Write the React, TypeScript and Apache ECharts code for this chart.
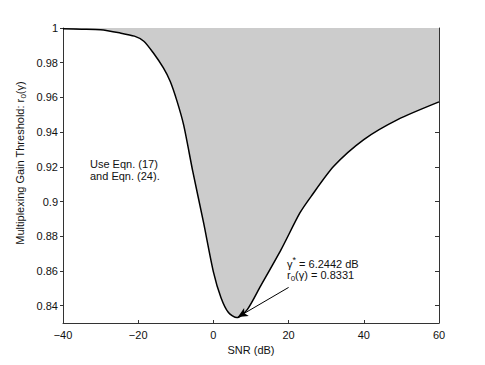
import React, { useEffect, useRef } from 'react';
import * as echarts from 'echarts';

const snrDb = [-40, -35, -30, -25, -21, -18.5, -16, -13.3, -11.5, -9.7, -7.9, -5.5, -2.6, 0, 2, 4, 6.24, 9, 12.5, 18, 23, 26, 32, 40, 49, 60];
const gainThreshold = [0.9995, 0.9993, 0.999, 0.9972, 0.9953, 0.9924, 0.9857, 0.977, 0.9693, 0.958, 0.944, 0.9175, 0.8877, 0.8595, 0.8447, 0.836, 0.8331, 0.8377, 0.8511, 0.8723, 0.8934, 0.903, 0.9203, 0.9357, 0.9472, 0.9574];
const yTickValues = [0.84, 0.86, 0.88, 0.9, 0.92, 0.94, 0.96, 0.98, 1];
const arrowFrom = [20, 0.8505];
const arrowTo = [6.5, 0.8334];

const FONT = '"Liberation Sans", Arial, sans-serif';
const AXIS_COLOR = '#333333';
const TEXT_COLOR = '#111111';

type Seg = { text: string; size: number; dy: number };

function measure(text: string, size: number): number {
  const ctx = document.createElement('canvas').getContext('2d');
  if (!ctx) return text.length * size * 0.5;
  ctx.font = `${size}px ${FONT}`;
  return ctx.measureText(text).width;
}

function segmentTexts(segs: Seg[], startX: number, y: number) {
  let x = startX;
  const out: any[] = [];
  segs.forEach((s) => {
    out.push({
      type: 'text',
      x,
      y: y + s.dy,
      style: { text: s.text, fontSize: s.size, fontFamily: FONT, fill: TEXT_COLOR, align: 'left', verticalAlign: 'middle' },
    });
    x += measure(s.text, s.size);
  });
  return out;
}

function totalWidth(segs: Seg[]) {
  return segs.reduce((a, s) => a + measure(s.text, s.size), 0);
}

export default function App() {
  const ref = useRef<HTMLDivElement>(null);
  useEffect(() => {
    if (!ref.current) return;
    const chart = echarts.init(ref.current, null, { renderer: 'svg' });
    const data = snrDb.map((x, i) => [x, gainThreshold[i]]);
    const axisLine = { show: true, onZero: false, lineStyle: { color: AXIS_COLOR, width: 1 } };

    const yTitle: Seg[] = [
      { text: 'Multiplexing Gain Threshold: r', size: 11, dy: 0 },
      { text: '0', size: 8, dy: 3 },
      { text: '(γ)', size: 11, dy: 0 },
    ];
    const line1: Seg[] = [
      { text: 'γ', size: 11, dy: 0 },
      { text: '*', size: 9, dy: -4 },
      { text: ' = 6.2442 dB', size: 11, dy: 0 },
    ];
    const line2: Seg[] = [
      { text: 'r', size: 11, dy: 0 },
      { text: '0', size: 8, dy: 3 },
      { text: '(γ) = 0.8331', size: 11, dy: 0 },
    ];
    const yW = totalWidth(yTitle);

    chart.setOption({
      animation: false,
      textStyle: { fontFamily: FONT },
      grid: { left: 63, right: 46, top: 28, bottom: 42 },
      xAxis: [
        {
          type: 'value',
          min: -40,
          max: 60,
          interval: 20,
          position: 'bottom',
          axisLine,
          axisTick: { show: true, inside: true, length: 3, lineStyle: { color: AXIS_COLOR } },
          axisLabel: {
            color: TEXT_COLOR,
            fontSize: 11,
            fontFamily: FONT,
            margin: 6,
            formatter: (v: number) => String(v).replace('-', '\u2212'),
          },
          splitLine: { show: false },
          name: 'SNR (dB)',
          nameLocation: 'middle',
          nameGap: 20,
          nameTextStyle: { color: TEXT_COLOR, fontSize: 11, fontFamily: FONT },
        },
        {
          type: 'value',
          min: -40,
          max: 60,
          interval: 20,
          position: 'top',
          axisLine,
          axisTick: { show: false },
          axisLabel: { show: false },
          splitLine: { show: false },
        },
      ],
      yAxis: [
        {
          type: 'value',
          min: 0.83,
          max: 1,
          position: 'left',
          axisLine,
          axisTick: { show: true, inside: false, length: 3, customValues: yTickValues, lineStyle: { color: AXIS_COLOR } },
          axisLabel: {
            color: TEXT_COLOR,
            fontSize: 11,
            fontFamily: FONT,
            margin: 5,
            customValues: yTickValues,
            formatter: (v: number) => String(Math.round(v * 100) / 100),
          },
          splitLine: { show: false },
        },
        {
          type: 'value',
          min: 0.83,
          max: 1,
          position: 'right',
          axisLine,
          axisTick: { show: true, inside: true, length: 4, customValues: yTickValues, lineStyle: { color: AXIS_COLOR } },
          axisLabel: { show: false },
          splitLine: { show: false },
        },
      ],
      series: [
        {
          type: 'line',
          data,
          xAxisIndex: 0,
          yAxisIndex: 0,
          smooth: 0.25,
          symbol: 'none',
          lineStyle: { color: '#000000', width: 1.5 },
          areaStyle: { origin: 'end', color: '#cccccc', opacity: 1 },
          z: 2,
          markLine: {
            silent: true,
            symbol: ['none', 'arrow'],
            symbolSize: [7, 10],
            lineStyle: { color: '#000000', width: 1, type: 'solid' },
            label: { show: false },
            data: [[{ coord: arrowFrom }, { coord: arrowTo }]],
          },
        },
      ],
      graphic: [
        {
          type: 'group',
          x: 20,
          y: 163,
          rotation: Math.PI / 2,
          children: segmentTexts(yTitle, -yW / 2, 0),
        },
        {
          type: 'text',
          x: 90,
          y: 170,
          style: {
            text: 'Use Eqn. (17)\nand Eqn. (24).',
            fontSize: 11,
            fontFamily: FONT,
            fill: TEXT_COLOR,
            align: 'left',
            verticalAlign: 'middle',
            lineHeight: 12,
          },
        },
        {
          type: 'text',
          x: 203,
          y: 94,
          style: {
            text: 'Use Eqns. (26) (27) and Eqn. (30).',
            fontSize: 11,
            fontFamily: FONT,
            fill: TEXT_COLOR,
            align: 'left',
            verticalAlign: 'middle',
          },
        },
        {
          type: 'group',
          x: 287,
          y: 264,
          children: [...segmentTexts(line1, 0, 0), ...segmentTexts(line2, 0, 11)],
        },
      ],
    });
    return () => chart.dispose();
  }, []);
  return <div ref={ref} style={{ position: 'absolute', left: 0, top: 0, width: 485, height: 365 }} />;
}
